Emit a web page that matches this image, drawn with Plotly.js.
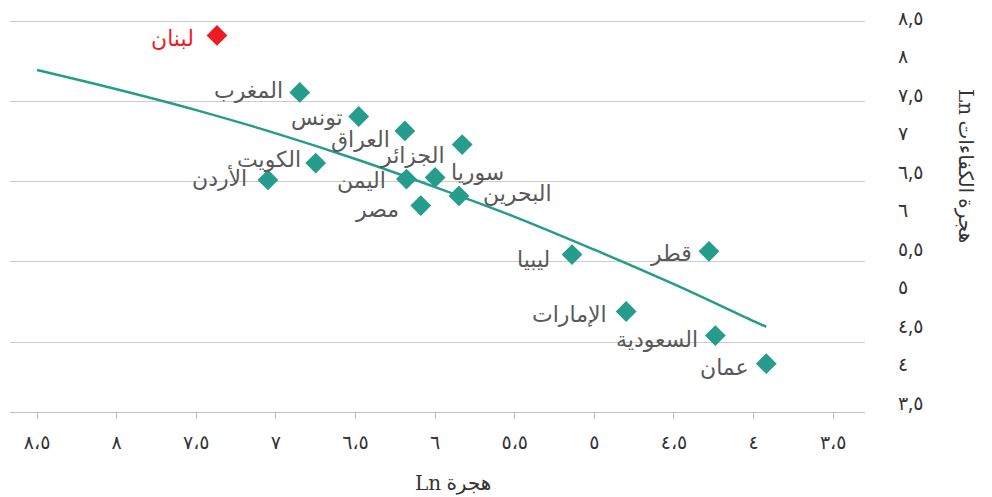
<!DOCTYPE html>
<html>
<head>
<meta charset="utf-8">
<script src="https://cdn.plot.ly/plotly-3.0.1.min.js"></script>
<style>html,body{margin:0;padding:0;background:#fff}#chart{width:992px;height:497px}</style>
</head>
<body>
<div id="chart"></div>
<script>
// Countries
const countries = ['لبنان','المغرب','الكويت','الأردن','تونس','العراق','الجزائر','اليمن','سوريا','البحرين','مصر','ليبيا','قطر','الإمارات','السعودية','عمان'];
// Ln migration (x)
const migrationLn = [7.37, 6.85, 6.75, 7.05, 6.48, 6.19, 5.83, 6.18, 6.00, 5.85, 6.09, 5.14, 4.28, 4.80, 4.24, 3.92];
// Ln brain drain / competencies migration (y)
const brainDrainLn = [8.32, 7.61, 6.73, 6.52, 7.31, 7.13, 6.96, 6.53, 6.55, 6.32, 6.20, 5.59, 5.63, 4.88, 4.58, 4.23];
// Trend curve
const trendX = [8.5, 8.0, 7.5, 7.0, 6.5, 6.0, 5.5, 5.0, 4.5, 4.0, 3.92];
const trendY = [7.89, 7.65, 7.39, 7.10, 6.78, 6.43, 6.06, 5.65, 5.22, 4.76, 4.69];
// Tick labels
const xTickVals = [8.5, 8, 7.5, 7, 6.5, 6, 5.5, 5, 4.5, 4, 3.5];
const xTickText = ['٨،٥','٨','٧،٥','٧','٦،٥','٦','٥،٥','٥','٤،٥','٤','٣،٥'];
const yTickVals = [8.5, 8, 7.5, 7, 6.5, 6, 5.5, 5, 4.5, 4, 3.5];
const yTickText = ['٨,٥','٨','٧,٥','٧','٦,٥','٦','٥,٥','٥','٤,٥','٤','٣,٥'];
const xTitle = 'هجرة';
const yTitle = 'هجرة الكفاءات';
const highlighted = 'لبنان';

// styling / label placement (not data)
const teal = '#259c8c';
const red = '#ed1c24';
const labelPlacement = {
  'لبنان':   ['right', -22, -2],
  'المغرب':  ['right', -16, 3],
  'الكويت':  ['right', -14, 5],
  'الأردن':  ['right', -20, 3],
  'تونس':    ['right', -15, 1],
  'العراق':  ['right', -14, -7],
  'الجزائر': ['right', -16, -9],
  'اليمن':   ['right', -19, 0],
  'سوريا':   ['left', 15, 6],
  'البحرين': ['left', 23, 4],
  'مصر':     ['right', -21, -2],
  'ليبيا':   ['right', -21, -3],
  'قطر':     ['right', -16, -1],
  'الإمارات':['right', -18, -1],
  'السعودية':['right', -16, -2],
  'عمان':    ['right', -16, -2]
};
const FONT = 'Noto Sans, DejaVu Sans, sans-serif';
const SERIF = 'DejaVu Serif, Liberation Serif, serif';

const markerColors = countries.map(c => c === highlighted ? red : teal);

const traces = [
  {
    type: 'scatter', mode: 'lines', x: trendX, y: trendY,
    line: {color: teal, width: 2.5, shape: 'spline'},
    hoverinfo: 'skip', showlegend: false
  },
  {
    type: 'scatter', mode: 'markers', x: migrationLn, y: brainDrainLn,
    text: countries,
    marker: {symbol: 'diamond', size: 16, color: markerColors, line: {width: 0}},
    showlegend: false
  },
  { type: 'scatter', mode: 'markers', x: [], y: [], yaxis: 'y2', showlegend: false, hoverinfo: 'skip' }
];

const annotations = countries.map((c, i) => {
  const p = labelPlacement[c];
  return {
    x: migrationLn[i], y: brainDrainLn[i], xref: 'x', yref: 'y',
    text: c, showarrow: false, xanchor: p[0], yanchor: 'middle',
    xshift: p[1], yshift: p[2], borderpad: 0,
    font: {family: FONT, size: 22, color: c === highlighted ? red : '#595959'}
  };
});
// y axis title (rotated clockwise as in the reference)
annotations.push({
  xref: 'paper', yref: 'paper', x: 1, y: 0.5, xanchor: 'center', yanchor: 'middle',
  xshift: 102, yshift: 45,
  text: '<span style="font-family:' + SERIF + '">Ln</span> ' + yTitle, textangle: 90, showarrow: false,
  font: {family: FONT, size: 20, color: '#333333'}
});
// x axis title
annotations.push({
  xref: 'paper', yref: 'paper', x: 0.5, y: 0, xanchor: 'center', yanchor: 'middle',
  xshift: 15, yshift: -70,
  text: '<span style="font-family:' + SERIF + '">Ln</span> ' + xTitle, showarrow: false,
  font: {family: FONT, size: 20, color: '#333333'}
});

const layout = {
  width: 992, height: 497,
  margin: {l: 10, r: 127, t: 10, b: 85},
  paper_bgcolor: '#ffffff', plot_bgcolor: '#ffffff',
  showlegend: false,
  xaxis: {
    range: [8.67, 3.30],
    tickmode: 'array', tickvals: xTickVals, ticktext: xTickText,
    showgrid: false, zeroline: false,
    showline: true, linecolor: '#bfbfbf', linewidth: 1,
    ticks: 'outside', ticklen: 6, tickcolor: '#bfbfbf', tickwidth: 1,
    ticklabelstandoff: 7,
    tickfont: {family: FONT, size: 19, color: '#333333'},
    fixedrange: true
  },
  yaxis: {
    range: [3.628, 8.637],
    tickmode: 'linear', tick0: 0.5, dtick: 1,
    showticklabels: false, ticks: '',
    showgrid: true, gridcolor: '#cccccc', gridwidth: 1,
    zeroline: false, showline: false, fixedrange: true
  },
  yaxis2: {
    overlaying: 'y', side: 'right', anchor: 'x',
    range: [3.383, 8.604],
    tickmode: 'array', tickvals: yTickVals, ticktext: yTickText,
    showgrid: false, zeroline: false, showline: false, ticks: '',
    ticklabelstandoff: 32,
    tickfont: {family: FONT, size: 19, color: '#333333'},
    fixedrange: true
  },
  annotations: annotations
};

Plotly.newPlot('chart', traces, layout, {displayModeBar: false, staticPlot: true});
</script>
</body>
</html>
